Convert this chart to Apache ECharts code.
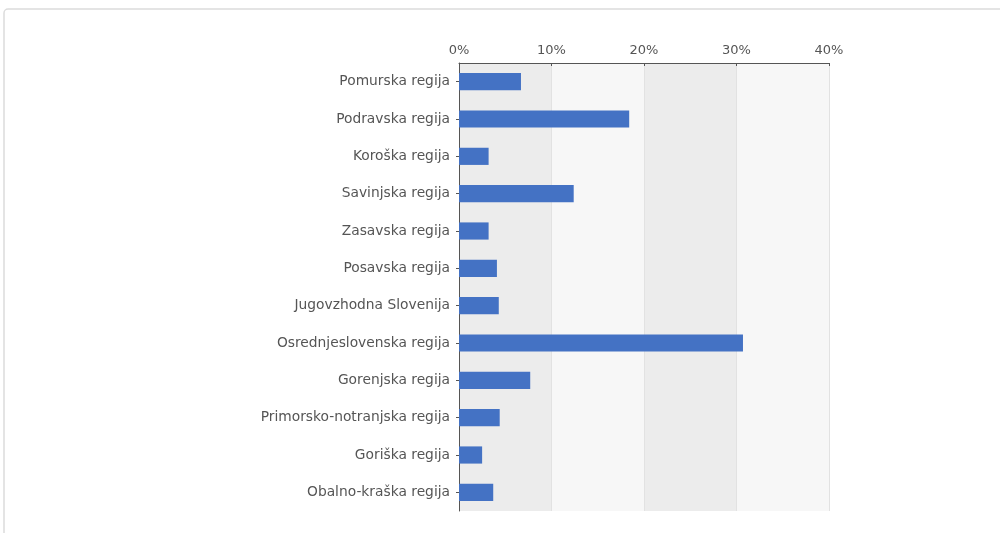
<!DOCTYPE html>
<html>
<head>
<meta charset="utf-8">
<script src="https://cdn.jsdelivr.net/npm/echarts@6/dist/echarts.min.js"></script>
<style>html,body{margin:0;padding:0;background:#fff;}#c{width:1000px;height:533px;}</style>
</head>
<body>
<div id="c"></div>
<script>
const categories = ["Pomurska regija","Podravska regija","Koroška regija","Savinjska regija","Zasavska regija","Posavska regija","Jugovzhodna Slovenija","Osrednjeslovenska regija","Gorenjska regija","Primorsko-notranjska regija","Goriška regija","Obalno-kraška regija"];
const values = [6.7, 18.4, 3.2, 12.4, 3.2, 4.1, 4.3, 30.7, 7.7, 4.4, 2.5, 3.7];
const tickMax = 40;
const tickStep = 10;

const chart = echarts.init(document.getElementById('c'), null, {renderer:'canvas'});
chart.setOption({
  animation:false,
  backgroundColor:'#fff',
  graphic:[{type:'rect', shape:{x:4,y:9,width:1010,height:540,r:4}, style:{fill:'none',stroke:'#dcdcdc',lineWidth:1.5}, silent:true, z:-1}],
  grid:{left:459, top:63, width:370, bottom:22, containLabel:false, show:true, backgroundColor:'#f0f0f0', borderWidth:0},
  xAxis:{type:'value', position:'top', min:0, max:tickMax, interval:tickStep,
    axisLine:{show:true, lineStyle:{color:'#555', width:1}},
    axisTick:{show:true, inside:true, length:3, lineStyle:{color:'#555'}},
    axisLabel:{formatter:'{value}%', color:'#555', fontSize:13, fontFamily:'DejaVu Sans', margin:6},
    splitLine:{show:true, lineStyle:{color:'#e2e2e2', width:1}},
    splitArea:{show:true, areaStyle:{color:['#ececec','#f7f7f7']}}
  },
  yAxis:{type:'category', data:categories, inverse:true,
    axisLine:{show:true, lineStyle:{color:'#555', width:1}},
    axisTick:{show:true, alignWithLabel:true, length:3, lineStyle:{color:'#555'}},
    axisLabel:{color:'#555', fontSize:13.8, fontFamily:'DejaVu Sans', margin:9},
    splitLine:{show:false}
  },
  series:[{type:'bar', data:values, barWidth:'46%', itemStyle:{color:'#4472c4'}}]
});
</script>
</body>
</html>
